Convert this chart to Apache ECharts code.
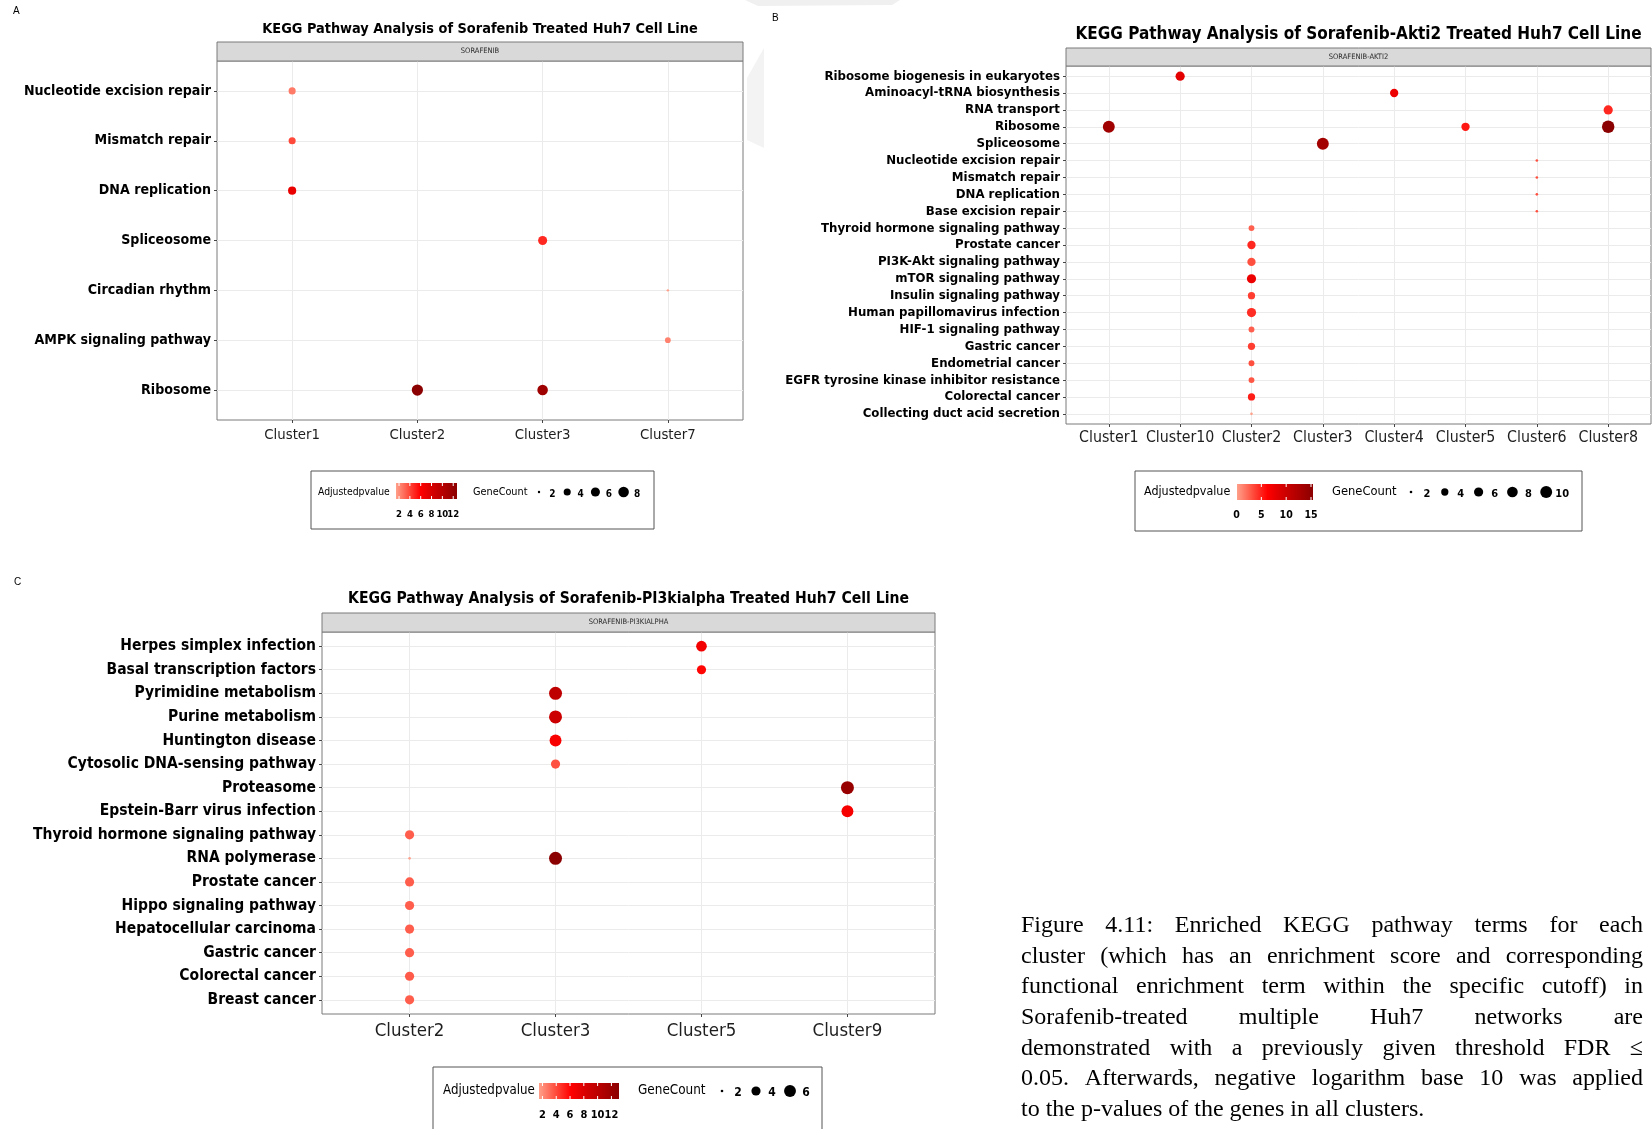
<!DOCTYPE html>
<html>
<head>
<meta charset="utf-8">
<script src="https://cdn.jsdelivr.net/npm/echarts@6/dist/echarts.min.js"></script>
<style>
  html, body { margin: 0; padding: 0; background: #ffffff; }
  #chart { width: 1652px; height: 1129px; }
</style>
</head>
<body>
<div id="chart"></div>
<script>
// ---------------- Panel A : Sorafenib ----------------
const clustersA = ['Cluster1', 'Cluster2', 'Cluster3', 'Cluster7'];
const pathwaysA = ['Nucleotide excision repair', 'Mismatch repair', 'DNA replication', 'Spliceosome',
  'Circadian rhythm', 'AMPK signaling pathway', 'Ribosome'];
// [cluster, pathway, -log10 adjusted p, gene count]
const pointsA = [
  ['Cluster1', 'Nucleotide excision repair', 2.5, 4],
  ['Cluster1', 'Mismatch repair', 3.9, 4],
  ['Cluster1', 'DNA replication', 7.0, 5],
  ['Cluster3', 'Spliceosome', 4.8, 6],
  ['Cluster7', 'Circadian rhythm', 1.44, 2],
  ['Cluster7', 'AMPK signaling pathway', 2.3, 3],
  ['Cluster2', 'Ribosome', 12.7, 9],
  ['Cluster3', 'Ribosome', 11.5, 8]
];
const colorBreaksA = [2, 4, 6, 8, 10, 12];
const sizeBreaksA = [2, 4, 6, 8];

// ---------------- Panel B : Sorafenib-Akti2 ----------------
const clustersB = ['Cluster1', 'Cluster10', 'Cluster2', 'Cluster3', 'Cluster4', 'Cluster5', 'Cluster6', 'Cluster8'];
const pathwaysB = ['Ribosome biogenesis in eukaryotes', 'Aminoacyl-tRNA biosynthesis', 'RNA transport', 'Ribosome',
  'Spliceosome', 'Nucleotide excision repair', 'Mismatch repair', 'DNA replication', 'Base excision repair',
  'Thyroid hormone signaling pathway', 'Prostate cancer', 'PI3K-Akt signaling pathway', 'mTOR signaling pathway',
  'Insulin signaling pathway', 'Human papillomavirus infection', 'HIF-1 signaling pathway', 'Gastric cancer',
  'Endometrial cancer', 'EGFR tyrosine kinase inhibitor resistance', 'Colorectal cancer',
  'Collecting duct acid secretion'];
const pointsB = [
  ['Cluster10', 'Ribosome biogenesis in eukaryotes', 8.1, 6],
  ['Cluster4', 'Aminoacyl-tRNA biosynthesis', 7.5, 5],
  ['Cluster8', 'RNA transport', 4.7, 6],
  ['Cluster1', 'Ribosome', 13.7, 10],
  ['Cluster5', 'Ribosome', 5.3, 5],
  ['Cluster8', 'Ribosome', 15.4, 11],
  ['Cluster3', 'Spliceosome', 13.4, 10],
  ['Cluster6', 'Nucleotide excision repair', 3.2, 2],
  ['Cluster6', 'Mismatch repair', 3.2, 2],
  ['Cluster6', 'DNA replication', 3.2, 2],
  ['Cluster6', 'Base excision repair', 3.2, 2],
  ['Cluster2', 'Thyroid hormone signaling pathway', 2.6, 3],
  ['Cluster2', 'Prostate cancer', 4.7, 5],
  ['Cluster2', 'PI3K-Akt signaling pathway', 3.2, 5],
  ['Cluster2', 'mTOR signaling pathway', 7.6, 6],
  ['Cluster2', 'Insulin signaling pathway', 3.9, 4],
  ['Cluster2', 'Human papillomavirus infection', 4.5, 6],
  ['Cluster2', 'HIF-1 signaling pathway', 2.6, 3],
  ['Cluster2', 'Gastric cancer', 3.9, 4],
  ['Cluster2', 'Endometrial cancer', 3.2, 3],
  ['Cluster2', 'EGFR tyrosine kinase inhibitor resistance', 2.9, 3],
  ['Cluster2', 'Colorectal cancer', 5.1, 4],
  ['Cluster2', 'Collecting duct acid secretion', 0.1, 2]
];
const colorBreaksB = [0, 5, 10, 15];
const sizeBreaksB = [2, 4, 6, 8, 10];

// ---------------- Panel C : Sorafenib-PI3kialpha ----------------
const clustersC = ['Cluster2', 'Cluster3', 'Cluster5', 'Cluster9'];
const pathwaysC = ['Herpes simplex infection', 'Basal transcription factors', 'Pyrimidine metabolism',
  'Purine metabolism', 'Huntington disease', 'Cytosolic DNA-sensing pathway', 'Proteasome',
  'Epstein-Barr virus infection', 'Thyroid hormone signaling pathway', 'RNA polymerase', 'Prostate cancer',
  'Hippo signaling pathway', 'Hepatocellular carcinoma', 'Gastric cancer', 'Colorectal cancer', 'Breast cancer'];
const pointsC = [
  ['Cluster5', 'Herpes simplex infection', 6.8, 5],
  ['Cluster5', 'Basal transcription factors', 6.0, 4],
  ['Cluster3', 'Pyrimidine metabolism', 9.9, 7],
  ['Cluster3', 'Purine metabolism', 9.0, 7],
  ['Cluster3', 'Huntington disease', 6.5, 6],
  ['Cluster3', 'Cytosolic DNA-sensing pathway', 3.8, 4],
  ['Cluster9', 'Proteasome', 12.3, 7],
  ['Cluster9', 'Epstein-Barr virus infection', 6.6, 6],
  ['Cluster2', 'Thyroid hormone signaling pathway', 3.4, 4],
  ['Cluster2', 'RNA polymerase', 1.5, 2],
  ['Cluster3', 'RNA polymerase', 13.1, 7],
  ['Cluster2', 'Prostate cancer', 3.4, 4],
  ['Cluster2', 'Hippo signaling pathway', 3.4, 4],
  ['Cluster2', 'Hepatocellular carcinoma', 3.4, 4],
  ['Cluster2', 'Gastric cancer', 3.4, 4],
  ['Cluster2', 'Colorectal cancer', 3.5, 4],
  ['Cluster2', 'Breast cancer', 3.4, 4]
];
const colorBreaksC = [2, 4, 6, 8, 10, 12];
const sizeBreaksC = [2, 4, 6];

// ---------------- Figure caption ----------------
const captionLines = [
  'Figure 4.11: Enriched KEGG pathway terms for each',
  'cluster (which has an enrichment score and corresponding',
  'functional enrichment term within the specific cutoff) in',
  'Sorafenib-treated multiple Huh7 networks are',
  'demonstrated with a previously given threshold FDR \u2264',
  '0.05. Afterwards, negative logarithm base 10 was applied',
  'to the p-values of the genes in all clusters.'
];

// ---------------- styling ----------------
const NARROW = '"Liberation Sans Narrow","DejaVu Sans Condensed","Arial Narrow","Liberation Sans",sans-serif';
const SERIF = '"Liberation Serif","Times New Roman",serif';
const GRADIENT = ['#ffa08a', '#ff5040', '#ff0000', '#d40000', '#b00000', '#8b0000'];

const panels = [
  {
    letter: 'A', letterPos: [13, 11],
    title: 'KEGG Pathway Analysis of Sorafenib Treated Huh7 Cell Line', titleY: 29, titleSize: 14.4,
    strip: 'SORAFENIB', stripTop: 42,
    box: { x: 217, y: 61, w: 526, h: 359 },
    clusters: clustersA, pathways: pathwaysA, points: pointsA,
    yFont: 14.1, xFont: 14.8, xMargin: 8, sizeRange: [2.4, 11.2],
    colorBreaks: colorBreaksA, sizeBreaks: sizeBreaksA,
    legend: { box: [311, 471, 343, 58], titleX: 318, textY: 492, dotY: 492, titleSize: 10.3, gcSize: 10.8,
      bar: [396, 483, 61, 16], tickY: 515, tickSize: 9.5,
      gcX: 473, dotX0: 539, dotStep: 28.2, labelDx: 13.5, numSize: 10 }
  },
  {
    letter: 'B', letterPos: [772, 18],
    title: 'KEGG Pathway Analysis of Sorafenib-Akti2 Treated Huh7 Cell Line', titleY: 35, titleSize: 17,
    strip: 'SORAFENIB-AKTI2', stripTop: 48,
    box: { x: 1066, y: 66, w: 585, h: 358 },
    clusters: clustersB, pathways: pathwaysB, points: pointsB,
    yFont: 13.1, xFont: 15.8, xMargin: 6, sizeRange: [2.6, 12.5],
    colorBreaks: colorBreaksB, sizeBreaks: sizeBreaksB,
    legend: { box: [1135, 471, 447, 60], titleX: 1144, textY: 492, dotY: 492, titleSize: 12.4, gcSize: 12.8,
      bar: [1237, 484, 76, 16], tickY: 515, tickSize: 10.5,
      gcX: 1332, dotX0: 1411, dotStep: 33.8, labelDx: 16, numSize: 11 }
  },
  {
    letter: 'C', letterPos: [14, 582],
    title: 'KEGG Pathway Analysis of Sorafenib-PI3kialpha Treated Huh7 Cell Line', titleY: 599, titleSize: 15.6,
    strip: 'SORAFENIB-PI3KIALPHA', stripTop: 613,
    box: { x: 322, y: 632, w: 613, h: 382 },
    clusters: clustersC, pathways: pathwaysC, points: pointsC,
    yFont: 15.5, xFont: 18.5, xMargin: 8, sizeRange: [2.6, 13],
    colorBreaks: colorBreaksC, sizeBreaks: sizeBreaksC,
    legend: { box: [433, 1067, 389, 80], titleX: 443, textY: 1091, dotY: 1091, titleSize: 13.2, gcSize: 13.4,
      bar: [539, 1083, 80, 16], tickY: 1115, tickSize: 11,
      gcX: 638, dotX0: 722, dotStep: 34, labelDx: 16, numSize: 12 }
  }
];

// ggplot-like area scale: diameter grows with sqrt of the rescaled count
function sizeScale(points, range) {
  const counts = points.map(p => p[3]);
  const lo = Math.min(...counts), hi = Math.max(...counts);
  return c => range[0] + (range[1] - range[0]) * Math.sqrt(Math.max(0, (c - lo) / (hi - lo)));
}

function textEl(x, y, text, size, opts) {
  opts = opts || {};
  return {
    type: 'text', x: x, y: y, silent: true, z: opts.z || 10,
    style: {
      text: text, fill: opts.color || '#000', fontSize: size, fontFamily: opts.family || NARROW,
      fontWeight: opts.weight || 'normal',
      align: opts.align || 'left', verticalAlign: opts.valign || 'middle',
      textAlign: opts.align || 'left', textVerticalAlign: opts.valign || 'middle'
    }
  };
}

const grids = [], xAxes = [], yAxes = [], series = [], visualMaps = [], graphics = [];

panels.forEach((P, i) => {
  const nx = P.clusters.length, ny = P.pathways.length;
  const sz = sizeScale(P.points, P.sizeRange);
  const pv = P.points.map(p => p[2]);
  const cLo = Math.min(...pv), cHi = Math.max(...pv);

  grids.push({ left: P.box.x, top: P.box.y, width: P.box.w, height: P.box.h,
    show: true, backgroundColor: '#ffffff', borderColor: '#7a7a7a', borderWidth: 1 });

  const xIdx = P.clusters.map((_, k) => k);
  const yIdx = P.pathways.map((_, k) => k);

  xAxes.push({
    type: 'value', gridIndex: i, min: -0.6, max: nx - 0.4, position: 'bottom',
    axisLine: { show: false, onZero: false },
    axisTick: { show: true, length: 3, customValues: xIdx, lineStyle: { color: '#444', width: 1 } },
    axisLabel: { customValues: xIdx, formatter: v => P.clusters[Math.round(v)], color: '#1e1e1e',
      fontFamily: NARROW, fontSize: P.xFont, margin: P.xMargin },
    splitLine: { show: true, lineStyle: { color: '#ebebeb', width: 1 } }
  });
  yAxes.push({
    type: 'value', gridIndex: i, inverse: true, min: -0.6, max: ny - 0.4, position: 'left',
    axisLine: { show: false, onZero: false },
    axisTick: { show: true, length: 3, customValues: yIdx, lineStyle: { color: '#444', width: 1 } },
    axisLabel: { customValues: yIdx, formatter: v => P.pathways[Math.round(v)], color: '#000',
      fontFamily: NARROW, fontWeight: 'bold', fontSize: P.yFont, margin: 6 },
    splitLine: { show: true, lineStyle: { color: '#ebebeb', width: 1 } }
  });
  series.push({
    type: 'scatter', xAxisIndex: i, yAxisIndex: i, silent: true,
    symbol: 'circle',
    data: P.points.map(p => [P.clusters.indexOf(p[0]), P.pathways.indexOf(p[1]), p[2], p[3]]),
    symbolSize: d => sz(d[3]),
    itemStyle: { opacity: 1 }
  });
  visualMaps.push({ type: 'continuous', show: false, seriesIndex: i, dimension: 2,
    min: cLo, max: cHi, inRange: { color: GRADIENT } });

  // panel letter, title and facet strip
  graphics.push(textEl(P.letterPos[0], P.letterPos[1], P.letter, 10, { family: '"Liberation Sans",sans-serif' }));
  graphics.push(textEl(P.box.x + P.box.w / 2, P.titleY, P.title, P.titleSize, { weight: 'bold', align: 'center' }));
  graphics.push({ type: 'rect', silent: true, z: 5,
    shape: { x: P.box.x, y: P.stripTop, width: P.box.w, height: P.box.y - P.stripTop },
    style: { fill: '#d9d9d9', stroke: '#7a7a7a', lineWidth: 1 } });
  graphics.push(textEl(P.box.x + P.box.w / 2, (P.stripTop + P.box.y) / 2, P.strip, 7.5,
    { align: 'center', color: '#2a2a2a' }));

  // legend: colour bar + size keys
  const L = P.legend;
  graphics.push({ type: 'rect', silent: true, z: 5,
    shape: { x: L.box[0], y: L.box[1], width: L.box[2], height: L.box[3] },
    style: { fill: '#ffffff', stroke: '#555555', lineWidth: 1 } });
  graphics.push(textEl(L.titleX, L.textY, 'Adjustedpvalue', L.titleSize, {}));
  const [bx, by, bw, bh] = L.bar;
  graphics.push({ type: 'rect', silent: true, z: 10,
    shape: { x: bx, y: by, width: bw, height: bh },
    style: { fill: new echarts.graphic.LinearGradient(0, 0, 1, 0,
      GRADIENT.map((c, k) => ({ offset: k / (GRADIENT.length - 1), color: c }))) } });
  P.colorBreaks.forEach(v => {
    const tx = bx + (v - cLo) / (cHi - cLo) * bw;
    graphics.push({ type: 'line', silent: true, z: 11, shape: { x1: tx, y1: by, x2: tx, y2: by + 3 },
      style: { stroke: '#ffffff', lineWidth: 1 } });
    graphics.push({ type: 'line', silent: true, z: 11, shape: { x1: tx, y1: by + bh - 3, x2: tx, y2: by + bh },
      style: { stroke: '#ffffff', lineWidth: 1 } });
    graphics.push(textEl(tx, L.tickY, String(v), L.tickSize, { weight: 'bold', align: 'center' }));
  });
  graphics.push(textEl(L.gcX, L.textY, 'GeneCount', L.gcSize, {}));
  P.sizeBreaks.forEach((c, k) => {
    const cx = L.dotX0 + k * L.dotStep;
    graphics.push({ type: 'circle', silent: true, z: 10, shape: { cx: cx, cy: L.dotY, r: sz(c) / 2 },
      style: { fill: '#000000' } });
    graphics.push(textEl(cx + L.labelDx, L.dotY + 2, String(c), L.numSize, { weight: 'bold', align: 'center' }));
  });
});

// faint mark in the page background between panels A and B
graphics.push({ type: 'polygon', silent: true, z: 1,
  shape: { points: [[764, 48], [747, 78], [747, 140], [764, 148]] }, style: { fill: '#f3f3f3' } });
graphics.push({ type: 'polygon', silent: true, z: 1,
  shape: { points: [[745, 0], [900, 0], [892, 5], [758, 6]] }, style: { fill: '#f0f0f0' } });

// justified caption block, one text element per word
(function () {
  const x0 = 1021, width = 622, y0 = 926, lineH = 30.6, fs = 24;
  const ctx = document.createElement('canvas').getContext('2d');
  ctx.font = fs + 'px ' + SERIF;
  captionLines.forEach((line, li) => {
    const words = line.split(' ');
    const ww = words.map(w => ctx.measureText(w).width);
    const total = ww.reduce((a, b) => a + b, 0);
    const last = li === captionLines.length - 1;
    const gap = last ? ctx.measureText(' ').width : (width - total) / (words.length - 1);
    let x = x0;
    words.forEach((w, k) => {
      graphics.push(textEl(x, y0 + li * lineH, w, fs, { family: SERIF, color: '#000' }));
      x += ww[k] + gap;
    });
  });
})();

const chart = echarts.init(document.getElementById('chart'), null, { renderer: 'canvas' });
chart.setOption({
  backgroundColor: '#ffffff',
  animation: false,
  grid: grids,
  xAxis: xAxes,
  yAxis: yAxes,
  visualMap: visualMaps,
  series: series,
  graphic: { elements: graphics }
});
</script>
</body>
</html>
